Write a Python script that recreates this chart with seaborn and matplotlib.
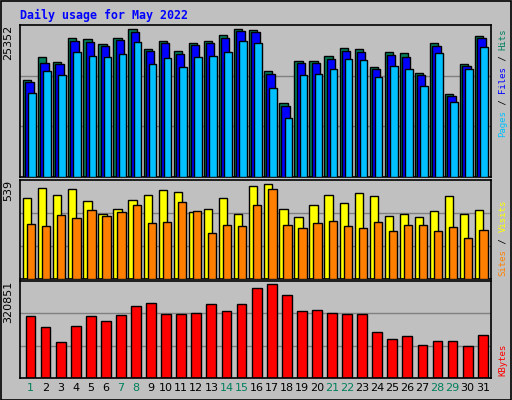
import numpy as np
import matplotlib
matplotlib.use("Agg")
import matplotlib.pyplot as plt
import seaborn as sns

days = list(range(1, 32))
weekend_days = [1, 7, 8, 14, 15, 21, 22, 28, 29]

hits = [16700, 20510, 19640, 23790, 23620, 22750, 23790, 25352, 21890, 23270,
        21540, 22930, 23270, 24310, 25300, 25230, 18090, 12730, 19810, 19810,
        20680, 22060, 21890, 18780, 21370, 21200, 17910, 22930, 14280, 19300, 24130]
files = [16360, 19470, 19300, 23270, 23100, 22410, 23440, 24830, 21540, 22930,
         21020, 22580, 22930, 23790, 25000, 24830, 17740, 12210, 19470, 19470,
         20160, 21540, 21370, 18430, 20850, 20510, 17400, 22410, 13940, 18950, 23790]
pages = [14460, 18090, 17400, 21370, 20680, 20510, 21020, 23100, 19300, 20330,
         18780, 20510, 20680, 21370, 23270, 22930, 15320, 10140, 17570, 17740,
         18430, 20160, 19990, 17220, 18950, 18430, 15670, 21200, 12900, 18430, 22230]
visits = [463, 516, 480, 510, 445, 369, 398, 451, 475, 504, 492, 381, 398, 463, 369,
          527, 539, 398, 352, 422, 480, 434, 486, 469, 357, 369, 352, 387, 469, 369, 393]
sites = [311, 299, 363, 346, 393, 357, 381, 422, 316, 322, 439, 387, 264, 305, 299,
         422, 510, 305, 287, 316, 328, 299, 287, 322, 275, 305, 305, 275, 293, 234, 281]
kbytes = [211500, 176250, 123400, 179800, 211500, 193900, 215000, 246750, 257300,
          218550, 218550, 222100, 253800, 229100, 253800, 310200, 320851, 285500,
          229100, 232650, 222100, 218550, 218550, 158600, 133950, 144500, 112800,
          126900, 126900, 109300, 148050]

title = "Daily usage for May 2022"

GRAY = "#C0C0C0"
C_HITS, C_FILES, C_PAGES = "#00805C", "#0000FF", "#00C0FF"
C_VISITS, C_SITES, C_KB = "#FFFF00", "#FF8000", "#FF0000"

sns.set_theme(style="white")
plt.rcParams["font.family"] = ["DejaVu Sans"]

fig = plt.figure(figsize=(5.12, 4.0), dpi=100, facecolor=GRAY)
fig.patches.append(plt.Rectangle((0.001, 0.001), 0.997, 0.997, transform=fig.transFigure,
                                 fill=False, edgecolor="black", lw=1.2))

L, W = 0.039, 0.92
ax1 = fig.add_axes([L, 0.5575, W, 0.38])
ax2 = fig.add_axes([L, 0.3025, W, 0.2475])
ax3 = fig.add_axes([L, 0.055, W, 0.2425])

x = np.array(days, dtype=float)
ek = dict(edgecolor="black", linewidth=1)

ax1.bar(x - 0.5, hits, width=0.55, color=C_HITS, align="edge", **ek, zorder=2)
ax1.bar(x - 0.35, files, width=0.55, color=C_FILES, align="edge", **ek, zorder=3)
ax1.bar(x - 0.15, pages, width=0.5, color=C_PAGES, align="edge", **ek, zorder=4)

ax2.bar(x - 0.5, visits, width=0.55, color=C_VISITS, align="edge", **ek, zorder=2)
ax2.bar(x - 0.23, sites, width=0.55, color=C_SITES, align="edge", **ek, zorder=3)

sns.barplot(x=x, y=kbytes, native_scale=True, color=C_KB, saturation=1,
            width=0.65, edgecolor="black", linewidth=1, ax=ax3, zorder=2)

for ax, mx, frac in [(ax1, max(hits), 0.973), (ax2, max(visits), 0.958), (ax3, max(kbytes), 0.965)]:
    top = mx / frac
    ax.set_facecolor(GRAY)
    ax.set_xlim(0.3, 31.55)
    ax.set_ylim(0, top)
    for g in (top / 3, 2 * top / 3):
        ax.axhline(g, color="#808080", lw=1, zorder=1)
    ax.set_xticks([])
    ax.set_yticks([])
    ax.set_xlabel("")
    ax.set_ylabel("")
    for s in ax.spines.values():
        s.set_color("black")
        s.set_linewidth(1.2)
    ax.text(-0.025, 1.0, str(mx), transform=ax.transAxes, rotation=90,
            ha="center", va="top", fontsize=8, color="black")

for d in days:
    ax3.text(d, -0.1, str(d), transform=ax3.get_xaxis_transform(), ha="center",
             va="center", fontsize=8, color=C_HITS if d in weekend_days else "black")

fig.text(20 / 512, 1 - 15 / 400, title, ha="left", va="center", color="#0000FF",
         fontsize=8.4, fontweight="bold", family="DejaVu Sans Mono")

# multicolour vertical legends on the right
CH = 5.45


def vlabel(parts, y_start):
    pos = y_start
    for txt, col in parts:
        fig.text(503 / 512, 1 - pos / 400, txt, rotation=90, ha="center", va="bottom",
                 color=col, fontsize=6.5, family="DejaVu Sans Mono")
        pos -= CH * len(txt)


vlabel([("Pages", C_PAGES), (" / ", "black"), ("Files", C_FILES), (" / ", "black"), ("Hits", C_HITS)], 137)
vlabel([("Sites", C_SITES), (" / ", "black"), ("Visits", C_VISITS)], 276)
vlabel([("KBytes", C_KB)], 376)

fig.savefig("out.png", dpi=100, facecolor=GRAY)
